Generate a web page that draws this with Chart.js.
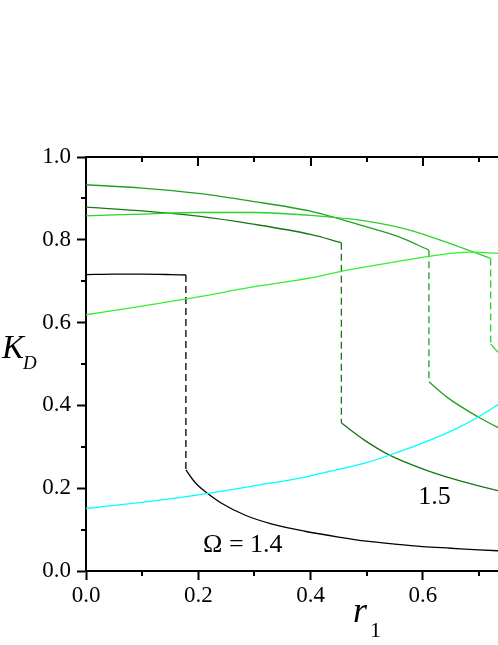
<!DOCTYPE html>
<html>
<head>
<meta charset="utf-8">
<script src="https://cdn.jsdelivr.net/npm/chart.js@4/dist/chart.umd.min.js"></script>
<style>
  html, body { margin: 0; padding: 0; background: #fff; overflow: hidden; }
  #wrap { width: 498px; height: 645px; overflow: hidden; position: relative; }
  canvas { display: block; }
</style>
</head>
<body>
<div id="wrap"><canvas id="c" width="620" height="645"></canvas></div>
<script>
// ---- data ----
const xTicks = [0.0, 0.2, 0.4, 0.6, 0.8];
const yTicks = [0.0, 0.2, 0.4, 0.6, 0.8, 1.0];

// Omega = 1.4 (black)
const o14UpperR = [0, 0.05, 0.1, 0.15, 0.178];
const o14UpperK = [0.716, 0.717, 0.717, 0.716, 0.715];
const o14JumpR  = [0.178, 0.178];
const o14JumpK  = [0.715, 0.244];
const o14LowerR = [0.178, 0.19, 0.2, 0.215, 0.24, 0.285, 0.33, 0.39, 0.45, 0.5, 0.55, 0.6, 0.65, 0.7, 0.75];
const o14LowerK = [0.244, 0.221, 0.206, 0.189, 0.165, 0.134, 0.114, 0.096, 0.082, 0.072, 0.065, 0.059, 0.055, 0.051, 0.048];

// cyan curve
const cyanR = [0, 0.1, 0.159, 0.215, 0.292, 0.39, 0.435, 0.5, 0.539, 0.613, 0.66, 0.699, 0.732, 0.76];
const cyanK = [0.151, 0.166, 0.176, 0.187, 0.204, 0.227, 0.241, 0.262, 0.279, 0.316, 0.344, 0.372, 0.400, 0.425];

// Omega = 1.5 (dark green)
const o15UpperR = [0, 0.1, 0.2, 0.292, 0.4, 0.455];
const o15UpperK = [0.879, 0.870, 0.857, 0.839, 0.813, 0.793];
const o15JumpR  = [0.455, 0.455];
const o15JumpK  = [0.793, 0.358];
const o15LowerR = [0.455, 0.47, 0.494, 0.539, 0.607, 0.673, 0.732, 0.76];
const o15LowerK = [0.358, 0.342, 0.318, 0.281, 0.243, 0.215, 0.195, 0.188];

// medium green
const gMidUpperR = [0, 0.1, 0.2, 0.292, 0.4, 0.5, 0.56, 0.611];
const gMidUpperK = [0.933, 0.925, 0.912, 0.894, 0.869, 0.831, 0.806, 0.775];
const gMidJumpR  = [0.611, 0.611];
const gMidJumpK  = [0.775, 0.457];
const gMidLowerR = [0.611, 0.643, 0.699, 0.732, 0.76];
const gMidLowerK = [0.457, 0.420, 0.372, 0.348, 0.330];

// light green
const gLightUpperR = [0, 0.1, 0.2, 0.3, 0.4, 0.5, 0.578, 0.649, 0.721];
const gLightUpperK = [0.858, 0.862, 0.866, 0.866, 0.859, 0.845, 0.823, 0.791, 0.755];
const gLightJumpR  = [0.721, 0.721];
const gLightJumpK  = [0.755, 0.548];
const gLightLowerR = [0.721, 0.734, 0.76];
const gLightLowerK = [0.548, 0.529, 0.500];

// bright green rising curve
const gBrightR = [0, 0.1, 0.2, 0.292, 0.4, 0.455, 0.5, 0.611, 0.654, 0.693, 0.734, 0.76];
const gBrightK = [0.619, 0.640, 0.662, 0.685, 0.708, 0.724, 0.735, 0.760, 0.768, 0.770, 0.767, 0.765];

// curve labels: [text, r, K]
const curveLabels = [["\u03A9 = 1.4", 0.2086, 0.046], ["1.5", 0.592, 0.163]];

// ---- styling ----
const C_BLACK = '#000000', C_CYAN = '#00ffff', C_DARK = '#1a741a', C_MID = '#22a022', C_LIGHT = '#2ad22a', C_BRIGHT = '#33f033';
const SERIF = '"Liberation Serif", "Times New Roman", serif';

function pts(rs, ks) { return rs.map((r, i) => ({ x: r, y: ks[i] })); }
function solid(rs, ks, color) {
  return { data: pts(rs, ks), borderColor: color, borderWidth: 1.3, pointRadius: 0, fill: false, cubicInterpolationMode: 'monotone' };
}
function dashed(rs, ks, color) {
  return { data: pts(rs, ks), borderColor: color, borderWidth: 1.3, pointRadius: 0, fill: false, tension: 0, borderDash: [7, 4] };
}

const datasets = [
  solid(gBrightR, gBrightK, C_BRIGHT),
  solid(cyanR, cyanK, C_CYAN),
  solid(gLightUpperR, gLightUpperK, C_LIGHT),
  dashed(gLightJumpR, gLightJumpK, C_LIGHT),
  solid(gLightLowerR, gLightLowerK, C_LIGHT),
  solid(gMidUpperR, gMidUpperK, C_MID),
  dashed(gMidJumpR, gMidJumpK, C_MID),
  solid(gMidLowerR, gMidLowerK, C_MID),
  solid(o15UpperR, o15UpperK, C_DARK),
  dashed(o15JumpR, o15JumpK, C_DARK),
  solid(o15LowerR, o15LowerK, C_DARK),
  solid(o14UpperR, o14UpperK, C_BLACK),
  dashed(o14JumpR, o14JumpK, C_BLACK),
  solid(o14LowerR, o14LowerK, C_BLACK)
];

const extras = {
  id: 'extras',
  afterDraw(chart) {
    const ctx = chart.ctx, a = chart.chartArea;
    const xs = chart.scales.x, ys = chart.scales.y;
    ctx.save();
    ctx.strokeStyle = '#000';
    ctx.lineWidth = 2;
    // top & right frame
    ctx.beginPath();
    ctx.moveTo(a.left - 1, a.top); ctx.lineTo(a.right + 1, a.top);
    ctx.moveTo(a.right, a.top); ctx.lineTo(a.right, a.bottom);
    ctx.stroke();
    // minor ticks (outward) on left and bottom, ticks (inward) on top and right
    ctx.beginPath();
    for (let v = 0.1; v < xs.max; v += 0.2) {
      const px = Math.round(xs.getPixelForValue(v));
      ctx.moveTo(px, a.bottom); ctx.lineTo(px, a.bottom + 5);
      ctx.moveTo(px, a.top); ctx.lineTo(px, a.top + 5);
    }
    xTicks.forEach(v => {
      const px = Math.round(xs.getPixelForValue(v));
      ctx.moveTo(px, a.top); ctx.lineTo(px, a.top + 9);
    });
    for (let v = 0.1; v < ys.max; v += 0.2) {
      const py = Math.round(ys.getPixelForValue(v));
      ctx.moveTo(a.left, py); ctx.lineTo(a.left - 5, py);
      ctx.moveTo(a.right, py); ctx.lineTo(a.right - 5, py);
    }
    yTicks.forEach(v => {
      const py = Math.round(ys.getPixelForValue(v));
      ctx.moveTo(a.right, py); ctx.lineTo(a.right - 9, py);
    });
    ctx.stroke();

    ctx.fillStyle = '#000';
    ctx.textBaseline = 'alphabetic';
    ctx.textAlign = 'left';
    // axis titles
    ctx.font = 'italic 33px ' + SERIF;
    ctx.fillText('K', 2, 358);
    ctx.font = 'italic 19px ' + SERIF;
    ctx.fillText('D', 23, 369);
    ctx.font = 'italic 36px ' + SERIF;
    ctx.fillText('r', 353, 622);
    ctx.font = '22px ' + SERIF;
    ctx.fillText('1', 370, 637);
    // curve labels
    ctx.font = '26px ' + SERIF;
    curveLabels.forEach(([t, r, k]) => {
      ctx.fillText(t, xs.getPixelForValue(r), ys.getPixelForValue(k));
    });
    ctx.restore();
  }
};

new Chart(document.getElementById('c'), {
  type: 'line',
  data: { datasets },
  options: {
    responsive: false,
    animation: false,
    devicePixelRatio: 1,
    layout: { padding: { top: 157, right: 85, left: 0, bottom: 0 } },
    plugins: { legend: { display: false }, tooltip: { enabled: false } },
    scales: {
      x: {
        type: 'linear', min: 0, max: 0.8,
        afterBuildTicks: s => { s.ticks = xTicks.map(v => ({ value: v })); },
        afterFit: s => { s.height = 74; },
        ticks: { callback: v => v.toFixed(1), color: '#000', padding: 2, maxRotation: 0, autoSkip: false,
                 font: { family: SERIF, size: 23 } },
        grid: { drawOnChartArea: false, drawTicks: true, tickLength: 9, tickWidth: 2, tickColor: '#000' },
        border: { display: true, color: '#000', width: 2 }
      },
      y: {
        type: 'linear', min: 0, max: 1,
        afterBuildTicks: s => { s.ticks = yTicks.map(v => ({ value: v })); },
        afterFit: s => { s.width = 86; },
        ticks: { callback: v => v.toFixed(1), color: '#000', padding: 6, autoSkip: false,
                 font: { family: SERIF, size: 23 } },
        grid: { drawOnChartArea: false, drawTicks: true, tickLength: 9, tickWidth: 2, tickColor: '#000' },
        border: { display: true, color: '#000', width: 2 }
      }
    }
  },
  plugins: [extras]
});
</script>
</body>
</html>
